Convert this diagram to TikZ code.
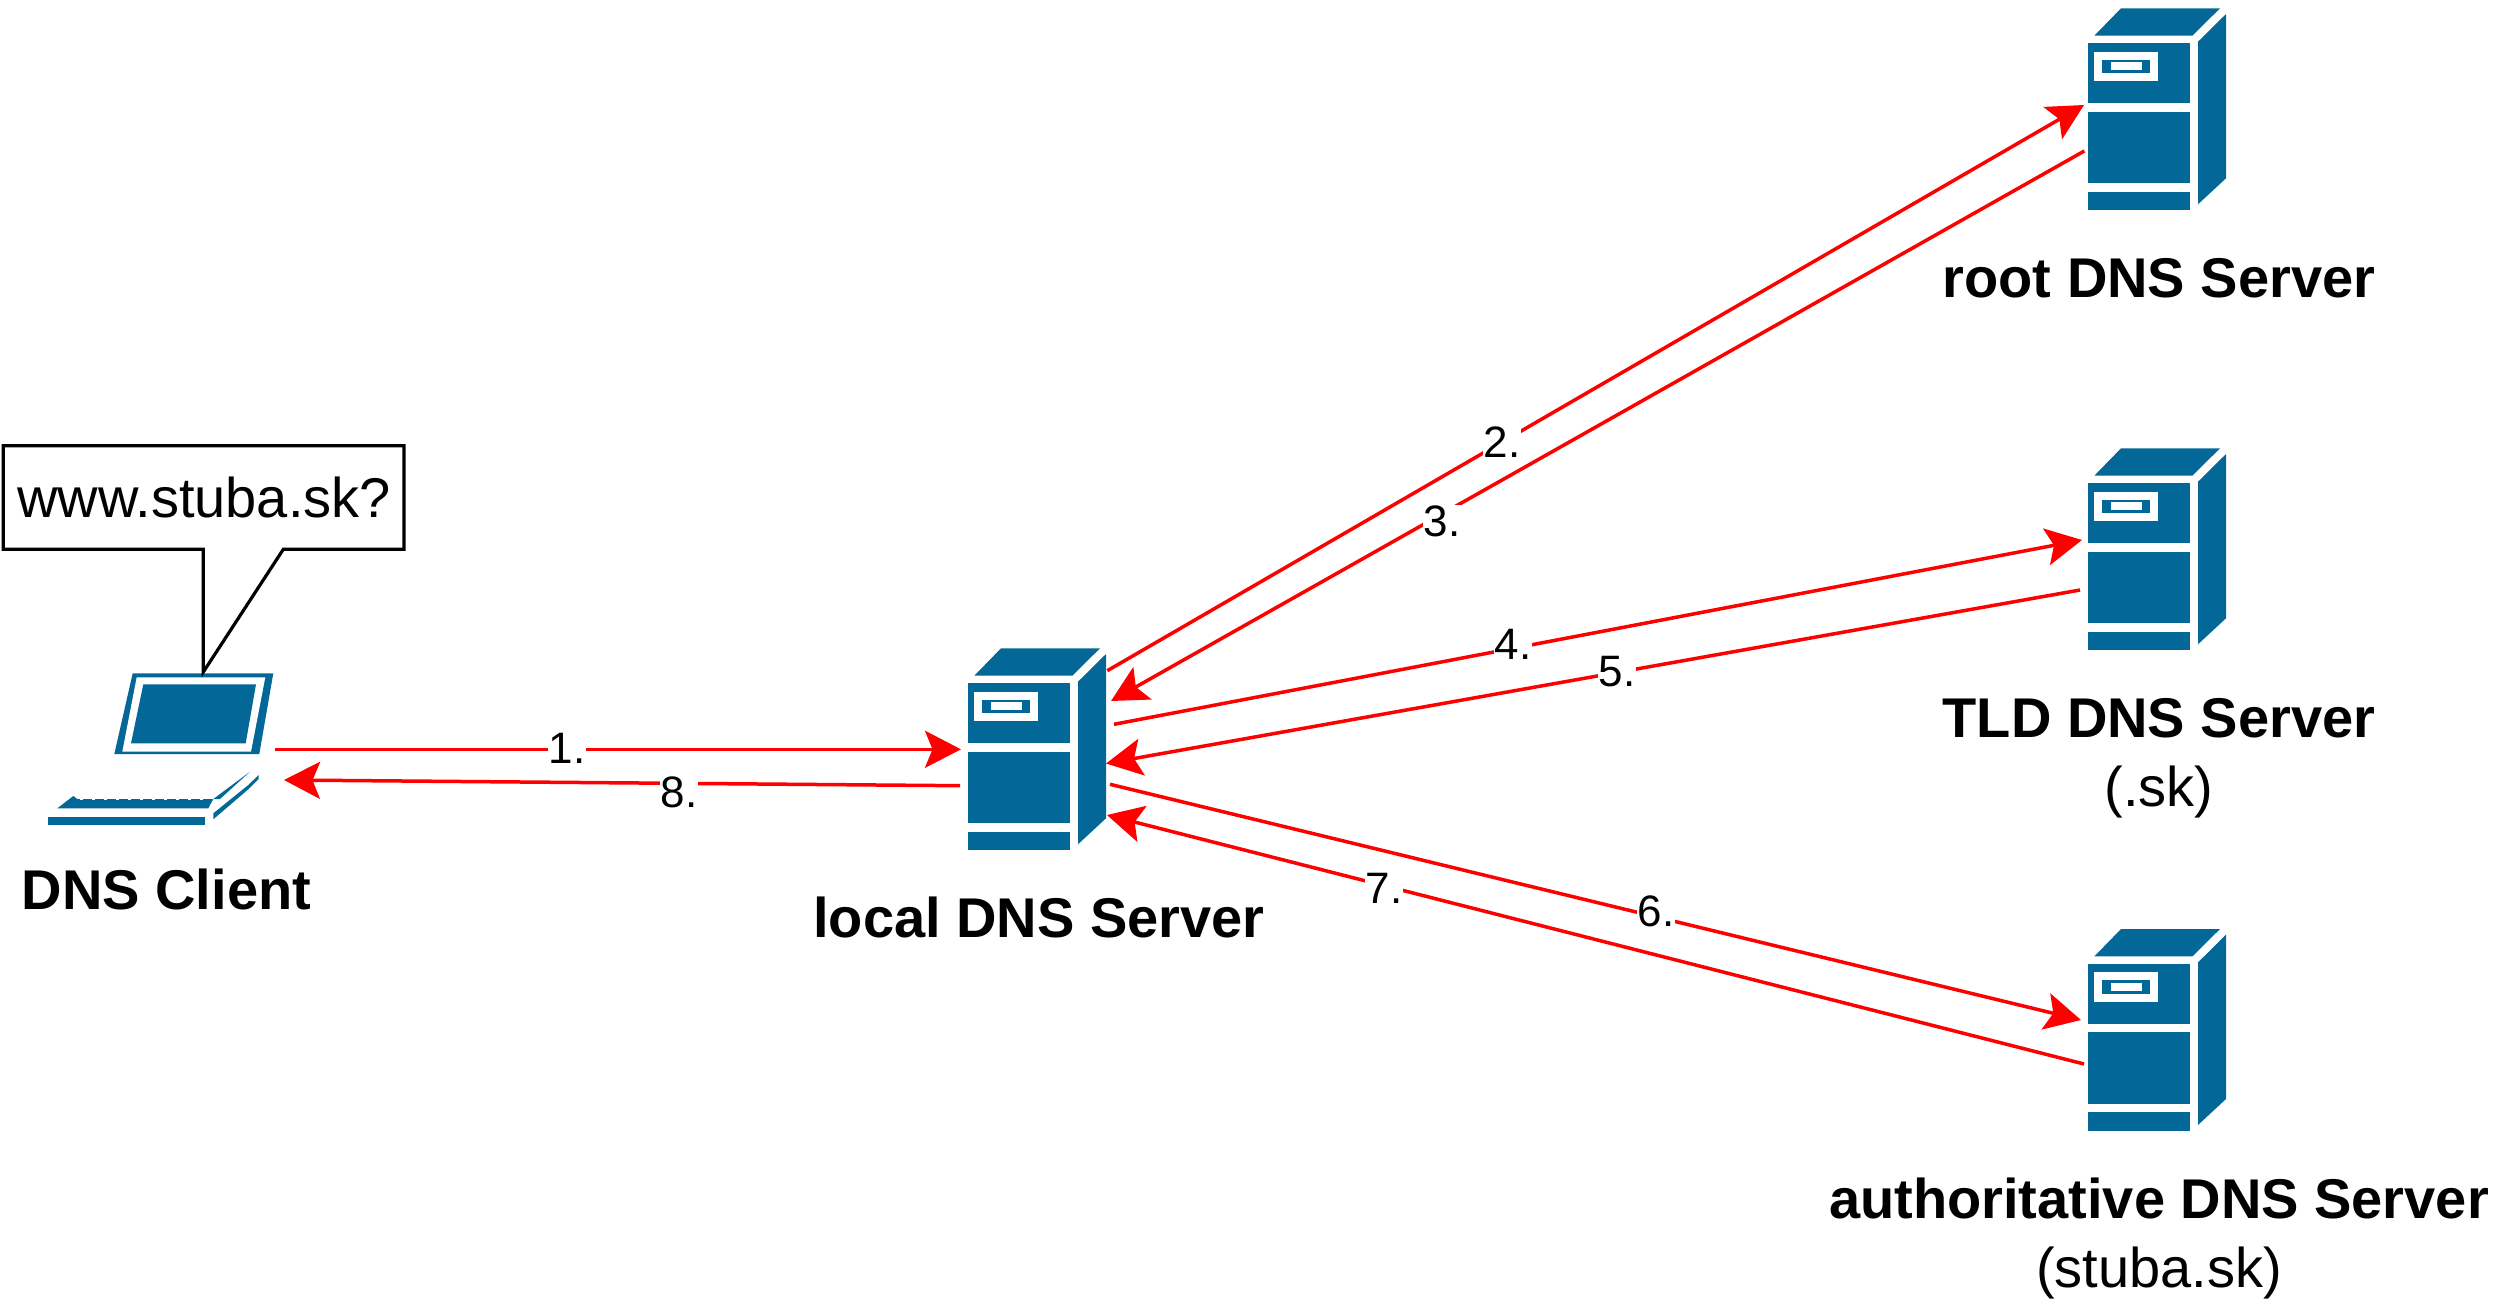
\documentclass[tikz,border=0pt]{standalone}
\usepackage{fontspec}
\setmainfont{Liberation Sans}
\usetikzlibrary{arrows.meta}
\definecolor{srv}{HTML}{036897}
\tikzset{
  x=1pt,y=-1pt,
  msg/.style={draw=red,fill=red,line width=3.5pt,-{Stealth[length=36pt,width=37pt,inset=7.5pt]}},
  num/.style={fill=white,inner sep=0.8pt,font=\fontsize{44}{44}\selectfont,text=black},
  bigtxt/.style={inner sep=0pt,align=center,anchor=base,font=\fontsize{56}{70}\selectfont},
  title/.style={inner sep=0pt,align=center,anchor=base,font=\fontsize{56}{70}\selectfont\bfseries},
  pics/dnsserver/.style={code={
    \fill[srv] (33,-35) -- (132,-35) -- (104.3,-7.6) -- (6.3,-7.6) -- cycle;
    \fill[srv] (0,0) rectangle (101.7,60);
    \fill[srv] (0,68.4) rectangle (101.7,140);
    \fill[srv] (0,148.4) rectangle (101.7,167);
    \fill[srv] (110,-1.6) -- (138,-29.3) -- (138,135) -- (110,161) -- cycle;
    \fill[white] (6.3,8.4) rectangle (70.3,37.7);
    \fill[srv] (14.3,16.4) rectangle (62.3,29.7);
    \fill[white] (22.7,19) rectangle (53.7,27);
  }}
}
\begin{document}
\begin{tikzpicture}
\useasboundingbox (0,0) rectangle (2496,1308);
% servers
\pic at (968,683.3) {dnsserver};
\pic at (2088,43.3) {dnsserver};
\pic at (2088,483.3) {dnsserver};
\pic at (2088,964) {dnsserver};
% laptop
\fill[srv] (132.7,673.3) -- (273.3,673.3) -- (259.3,754) -- (114.3,754) -- cycle;
\fill[white] (136.7,677.3) -- (265.3,677.3) -- (251,751.7) -- (122.3,751.7) -- cycle;
\fill[srv] (143.3,684.3) -- (256,684.3) -- (245.7,743.3) -- (131,743.3) -- cycle;
\fill[srv] (57.3,808.3) -- (73.3,796) -- (77.3,799) -- (213.3,799) -- (208.3,808.3) -- cycle;
\draw[white,line width=1pt,dash pattern=on 3pt off 9pt] (80,799) -- (212,799);
\fill[srv] (48,817) rectangle (205,825);
\fill[srv] (213.3,813.3) -- (248.3,785) -- (258.7,775) -- (258.7,779) -- (248.3,789.3) -- (213.3,819.3) -- cycle;
\fill[srv] (213.3,799) -- (250,771.7) -- (220,799) -- cycle;
% callout
\draw[black,line width=3.2pt,fill=white,miter limit=10] (3.3,445.7) -- (404,445.7) -- (404,549.3) -- (283.3,549.3) -- (203.3,672) -- (203.3,549.3) -- (3.3,549.3) -- cycle;
\node[bigtxt] (query) at (204,517) {www.stuba.sk?};
% connector ends
\coordinate (c1a) at (275,749.3);   \coordinate (c1b) at (961,749.3);
\coordinate (c8a) at (960,785.7);   \coordinate (c8b) at (284,780);
\coordinate (c2a) at (1107.3,670.7);\coordinate (c2b) at (2084,105);
\coordinate (c3a) at (2084.3,151);  \coordinate (c3b) at (1111,701);
\coordinate (c4a) at (1114,724.3);  \coordinate (c4b) at (2082,540);
\coordinate (c5a) at (2080,590);    \coordinate (c5b) at (1106,763.5);
\coordinate (c6a) at (1110,784.3);  \coordinate (c6b) at (2081,1020);
\coordinate (c7a) at (2084,1064);   \coordinate (c7b) at (1107,815);
\foreach \i in {1,...,8} \draw[msg] (c\i a) -- (c\i b);
% step numbers
\node[num] (n1) at (567,748) {1.};
\node[num] (n2) at (1502,442) {2.};
\node[num] (n3) at (1442,521) {3.};
\node[num] (n4) at (1513,644) {4.};
\node[num] (n5) at (1617,672) {5.};
\node[num] (n6) at (1656,911) {6.};
\node[num] (n7) at (1384,888) {7.};
\node[num] (n8) at (679,792) {8.};
% titles
\node[title] (client) at (166.5,909.5) {DNS Client};
\node[title] (local) at (1039,937.5) {local DNS Server};
\node[title] (root) at (2159,297) {root DNS Server};
\node[title] (tld) at (2159,737) {TLD DNS Server};
\node[bigtxt] (tldz) at (2159,806) {(.sk)};
\node[title] (auth) at (2159,1218) {authoritative DNS Server};
\node[bigtxt] (authz) at (2159,1287) {(stuba.sk)};
\end{tikzpicture}
\end{document}
